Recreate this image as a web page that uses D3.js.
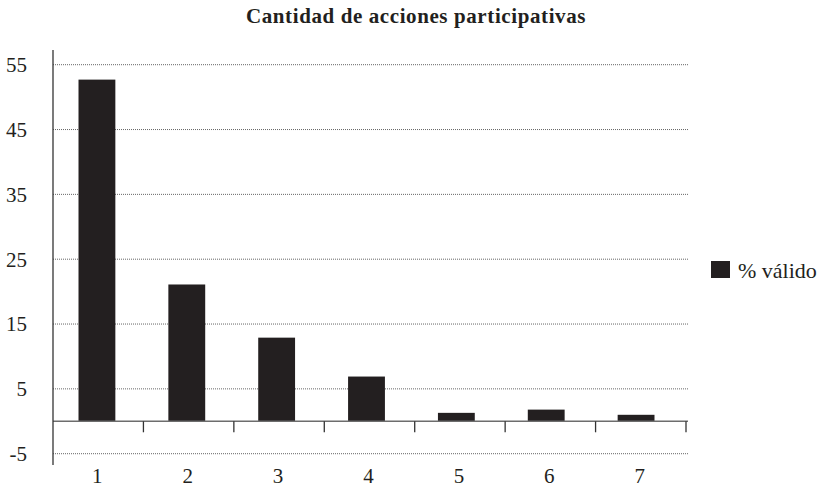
<!DOCTYPE html>
<html>
<head>
<meta charset="utf-8">
<script src="https://cdn.jsdelivr.net/npm/d3@7"></script>
<style>
  body { margin: 0; background: #fff; }
</style>
</head>
<body>
<div id="chart"></div>
<script>
// data
const categories = ["1", "2", "3", "4", "5", "6", "7"];
const values = [52.7, 21.1, 12.9, 6.9, 1.3, 1.8, 1.0];
const yTicks = [-5, 5, 15, 25, 35, 45, 55];
const seriesName = "% válido";
const title = "Cantidad de acciones participativas";

const W = 822, H = 490;
const barColor = "#231f20";
const font = "'Liberation Serif', 'Times New Roman', 'DejaVu Serif', serif";

const svg = d3.select("#chart")
  .append("svg")
  .attr("width", W)
  .attr("height", H)
  .attr("font-family", font);

// Scales
const y = d3.scaleLinear()
  .domain([-5, 55])
  .range([453.7, 64.7]);

const xTick = d3.scaleBand()
  .domain(categories)
  .range([53, 686])
  .padding(0);

const xBar = d3.scaleBand()
  .domain(categories)
  .range([52, 681])
  .paddingInner(0.59)
  .paddingOuter(0.295);

// Gridlines (dotted)
svg.append("g")
  .selectAll("line")
  .data(yTicks)
  .join("line")
  .attr("x1", 53)
  .attr("x2", 688)
  .attr("y1", d => y(d))
  .attr("y2", d => y(d))
  .attr("stroke", "#666")
  .attr("stroke-width", 1)
  .attr("stroke-dasharray", "1,1");

// Bars
svg.append("g")
  .selectAll("rect")
  .data(values)
  .join("rect")
  .attr("x", (d, i) => xBar(categories[i]))
  .attr("width", xBar.bandwidth())
  .attr("y", d => y(Math.max(0, d)))
  .attr("height", d => Math.abs(y(d) - y(0)))
  .attr("fill", barColor);

// X axis at zero, ticks hang below
const xAxisG = svg.append("g")
  .attr("transform", `translate(0, ${y(0)})`);

xAxisG.append("line")
  .attr("x1", 53)
  .attr("x2", 688)
  .attr("stroke", "#6d6d6d")
  .attr("stroke-width", 1.5);

xAxisG.selectAll(".tick")
  .data(categories)
  .join("line")
  .attr("class", "tick")
  .attr("x1", d => xTick(d) + xTick.bandwidth())
  .attr("x2", d => xTick(d) + xTick.bandwidth())
  .attr("y1", 0)
  .attr("y2", 11)
  .attr("stroke", "#333")
  .attr("stroke-width", 1.3);

// Category labels under the plot
svg.append("g")
  .selectAll("text")
  .data(categories)
  .join("text")
  .attr("x", d => xTick(d) + xTick.bandwidth() / 2 - 1)
  .attr("y", 483)
  .attr("text-anchor", "middle")
  .attr("font-family", font)
  .style("font-size", "21px")
  .style("fill", "#231f20")
  .text(d => d);

// Y axis
svg.append("line")
  .attr("x1", 53)
  .attr("x2", 53)
  .attr("y1", 50)
  .attr("y2", 465)
  .attr("stroke", "#333")
  .attr("stroke-width", 1.3);

svg.append("g")
  .selectAll("text")
  .data(yTicks)
  .join("text")
  .attr("x", 27)
  .attr("y", d => y(d))
  .attr("dy", "0.35em")
  .attr("text-anchor", "end")
  .attr("font-family", font)
  .style("font-size", "21px")
  .style("fill", "#231f20")
  .text(d => d);

// Title
svg.append("text")
  .attr("x", 416)
  .attr("y", 23)
  .attr("text-anchor", "middle")
  .attr("font-family", font)
  .style("font-size", "21px")
  .style("font-weight", "bold")
  .style("letter-spacing", "0.6px")
  .style("fill", "#231f20")
  .text(title);

// Legend
const legend = svg.append("g")
  .attr("transform", "translate(711, 261)");

legend.append("rect")
  .attr("width", 19)
  .attr("height", 17)
  .attr("fill", barColor);

legend.append("text")
  .attr("x", 27)
  .attr("y", 9)
  .attr("dy", "0.35em")
  .attr("font-family", font)
  .style("font-size", "22px")
  .style("fill", "#231f20")
  .text(seriesName);
</script>
</body>
</html>
